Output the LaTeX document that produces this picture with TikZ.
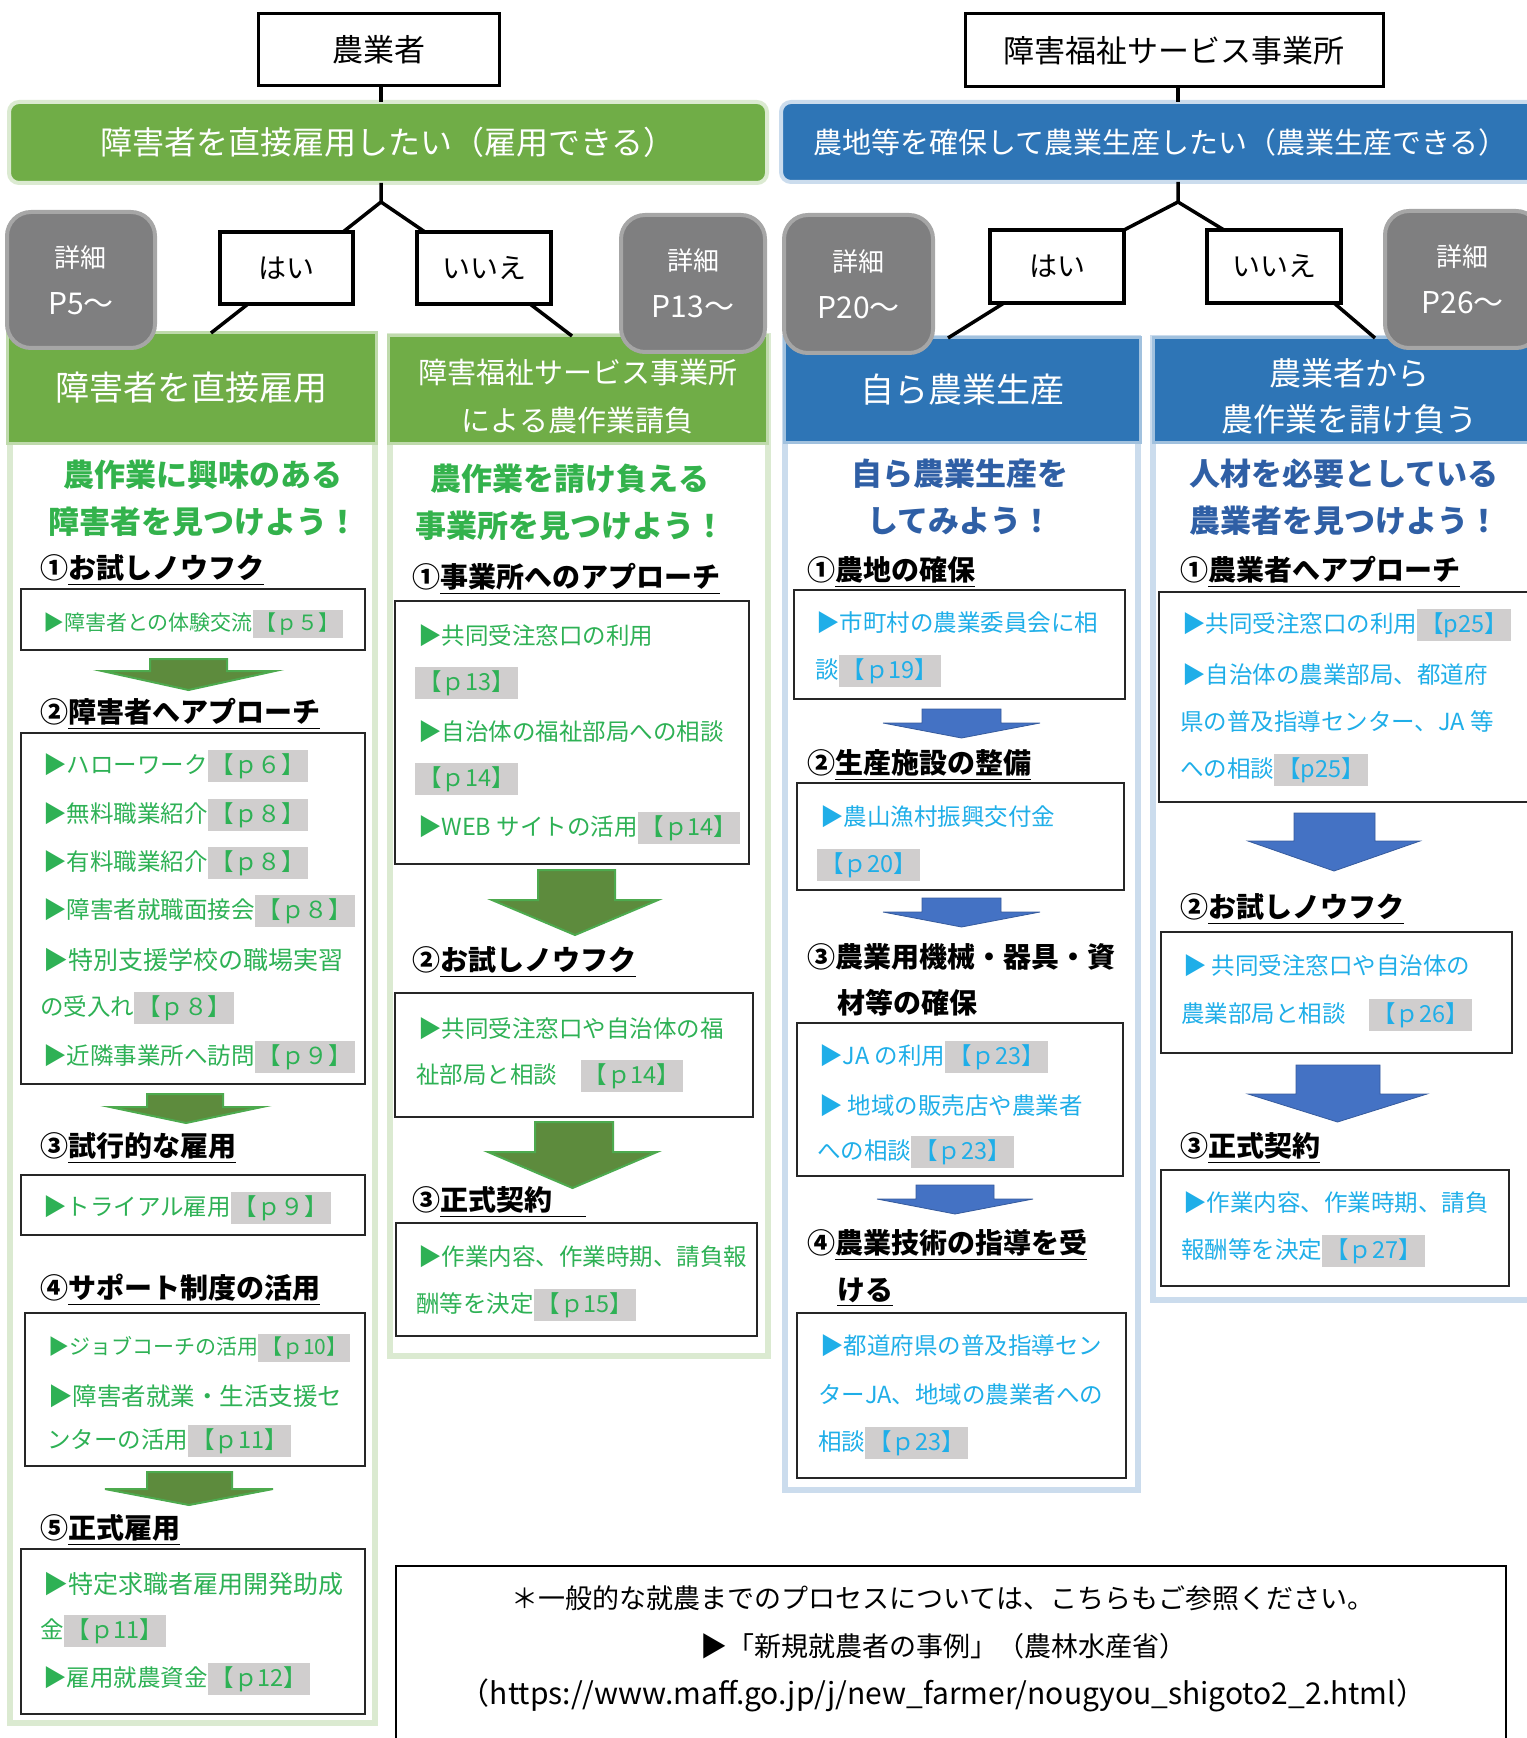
\documentclass[tikz,border=0pt]{standalone}
\usepackage{fontspec}
\setmainfont{Noto Sans CJK JP}
\usepackage{xcolor}
\definecolor{leafgreen}{HTML}{70AD47}
\definecolor{seablue}{HTML}{2E75B6}
\definecolor{badgegray}{HTML}{7F7F80}
\definecolor{badgeline}{HTML}{A6A6A6}
\definecolor{titlegreen}{HTML}{33B24C}
\definecolor{itemgreen}{HTML}{2EB155}
\definecolor{titleblue}{HTML}{2F5FA5}
\definecolor{itemcyan}{HTML}{1FAEE8}
\definecolor{hlgray}{HTML}{D0CECE}
\definecolor{arrowolive}{HTML}{5D8B3D}
\definecolor{arrowgreen}{HTML}{4DAA4E}
\definecolor{arrowblue}{HTML}{4472C4}
\newcommand\pg[1]{\colorbox{hlgray}{#1}}
\newcommand\fsz[2]{\fontsize{#1}{#2}\selectfont}
\setlength{\fboxsep}{1.5pt}

\begin{document}
\begin{tikzpicture}[x=0.5pt, y=-0.5pt, inner sep=0pt, outer sep=0pt,
		cell/.style n args={4}{minimum width={(#3-#1)*0.5pt}, minimum height={(#4-#2)*0.5pt}, at={({(#1+#3)/2},{(#2+#4)/2})}},
		person/.style={draw, line width=1.5pt, font=\fsz{15.5pt}{18pt}},
		wish/.style={draw=#1!25, fill=#1, line width=2pt, rounded corners=5pt, text=white, font=\fsz{14.5pt}{18pt}},
		answer/.style={draw, line width=2pt, fill=white, font=\fsz{14pt}{18pt}},
		detail/.style={draw=badgeline, fill=badgegray, line width=2pt, rounded corners=12pt, text=white, align=center, font=\fsz{13pt}{23.5pt}},
		route/.style={draw=#1!45, fill=#1, line width=1.5pt, text=white, align=center},
		lane/.style={draw=#1!25, line width=3pt},
		stepbox/.style={draw=black!85, line width=0.75pt},
		steptitle/.style={anchor=west, font=\fsz{14pt}{23.5pt}\bfseries},
		goal/.style={align=center, text=#1, font=\fsz{15.5pt}{23.5pt}\bfseries},
		itemg/.style={anchor=west, text=itemgreen, font=\fsz{11.75pt}{12pt}},
		itemb/.style={anchor=west, text=itemcyan, font=\fsz{11.75pt}{12pt}},
		link/.style={line width=1.75pt}]
	\useasboundingbox (0,0) rectangle (1526,1738);

	\node[cell={258}{14}{499}{86}, person] (farmer) {農業者};
	\node[cell={965}{14}{1383}{87}, person] (office) {障害福祉サービス事業所};
	\node[cell={9}{102}{767}{183}, wish=leafgreen, font=\fsz{16pt}{18pt}] (wantL) {障害者を直接雇用したい（雇用できる）};
	\node[cell={781}{102}{1540}{182}, wish=seablue] (wantR) {農地等を確保して農業生産したい（農業生産できる）};

	\node[cell={220}{232}{353}{304}, answer] (yesL) {はい};
	\node[cell={417}{232}{551}{304}, answer] (noL) {いいえ};
	\node[cell={990}{230}{1124}{303}, answer] (yesR) {はい};
	\node[cell={1207}{230}{1341}{303}, answer] (noR) {いいえ};

	\node[cell={10}{336}{375}{1723}, lane=leafgreen] (laneL) {};
	\node[cell={389.5}{336}{767.5}{1356}, lane=leafgreen] (laneM) {};
	\node[cell={784.5}{338}{1137.5}{1490}, lane=seablue] (laneB) {};
	\node[cell={1152.5}{338}{1545}{1300}, lane=seablue] (laneR) {};

	\node[cell={7}{333}{376}{443}, route=leafgreen, font=\fsz{17pt}{24pt}] (directL) {障害者を直接雇用};
	\node[cell={388}{336}{767}{443}, route=leafgreen, font=\fsz{14.5pt}{24pt}] (contractL) {\rule{0pt}{19pt}障害福祉サービス事業所\\による農作業請負};
	\node[cell={784}{338}{1140}{442}, route=seablue, font=\fsz{17pt}{24pt}] (selfB) {自ら農業生産};
	\node[cell={1153}{338}{1545}{442}, route=seablue, font=\fsz{16pt}{23pt}] (contractB) {\rule{0pt}{20pt}農業者から\\農作業を請け負う};

	\coordinate (forkL) at (381,202);
	\coordinate (forkR) at (1178,202);
	\draw[link] (forkL |- farmer.south) -- (forkL |- wantL.north);
	\draw[link] (forkL |- wantL.south) -- (forkL) -- ([xshift=-5pt]yesL.north east);
	\draw[link] (forkL) -- ([xshift=4pt]noL.north west);
	\draw[link] ([xshift=14pt]yesL.south west) -- ([xshift=102pt]directL.north west);
	\draw[link] ([xshift=-10.5pt]noL.south east) -- ([xshift=92pt]contractL.north west);
	\draw[link] (forkR |- office.south) -- (forkR |- wantR.north);
	\draw[link] (forkR |- wantR.south) -- (forkR) -- (yesR.north east);
	\draw[link] (forkR) -- ([xshift=8.5pt]noR.north west);
	\draw[link] ([xshift=7pt]yesR.south west) -- ([xshift=82pt]selfB.north west);
	\draw[link] ([xshift=-3.5pt]noR.south east) -- ([xshift=111pt]contractB.north west);

	\node[cell={7}{212}{155}{348}, detail] (moreL) {詳細\\{\fsz{15pt}{23.5pt}P5～}};
	\node[cell={621}{215}{765}{352}, detail] (moreM) {詳細\\{\fsz{15pt}{23.5pt}P13～}};
	\node[cell={784}{215}{933}{353}, detail] (moreB) {詳細\\{\fsz{15pt}{23.5pt}P20～}};
	\node[cell={1385}{211}{1540}{348}, detail] (moreR) {詳細\\{\fsz{15pt}{23.5pt}P26～}};

	\node[goal=titlegreen] (goalL) at (203,498) {農作業に興味のある\\障害者を見つけよう！};
	\node[goal=titlegreen] (goalM) at (570,502) {農作業を請け負える\\事業所を見つけよう！};
	\node[goal=titleblue] (goalB) at (960,497) {自ら農業生産を\\してみよう！};
	\node[goal=titleblue] (goalR) at (1344,497) {人材を必要としている\\農業者を見つけよう！};

	\foreach \l/\r/\a/\b/\t/\h/\p in {102/275/150/227/659/671/690, 110/262/147/223/1094/1107/1123, 105/273/147/232/1472/1489/1505, 492/658/538/615/870/900/935, 488/657/535/613/1122/1152/1188}
		\filldraw[fill=arrowolive, draw=arrowgreen, line width=1pt] (\a,\t) -- (\b,\t) -- (\b,\h) -- (\r,\h) -- ({(\l+\r)/2},\p) -- (\l,\h) -- (\a,\h) -- cycle;
	\foreach \l/\r/\a/\b/\t/\h/\p in {883/1040/922/1001/709/723/738, 883/1040/922/1001/898/912/927, 877/1033/916/994/1185/1199/1214, 1248/1420/1294/1375/813/841/871, 1248/1427/1296/1380/1065/1094/1122}
		\filldraw[fill=arrowblue, draw=arrowblue!80!black, line width=0.4pt] (\a,\t) -- (\b,\t) -- (\b,\h) -- (\r,\h) -- ({(\l+\r)/2},\p) -- (\l,\h) -- (\a,\h) -- cycle;

	\node[steptitle] (stepL1) at (40,570) {①\underline{お試しノウフク}};
	\node[steptitle] (stepL2) at (40,714) {②\underline{障害者へアプローチ}};
	\node[steptitle] (stepL3) at (40,1148) {③\underline{試行的な雇用}};
	\node[steptitle] (stepL4) at (40,1290) {④\underline{サポート制度の活用}};
	\node[steptitle] (stepL5) at (40,1530) {⑤\underline{正式雇用}};
	\node[cell={21}{589}{365}{650}, stepbox] (boxL1) {};
	\node[cell={21}{733}{365}{1084}, stepbox] (boxL2) {};
	\node[cell={21}{1175}{365}{1235}, stepbox] (boxL3) {};
	\node[cell={25}{1313}{365}{1466}, stepbox] (boxL4) {};
	\node[cell={21}{1549}{365}{1714}, stepbox] (boxL5) {};
	\foreach \x/\y/\t [count=\i] in {43/624/{\fsz{10.5pt}{12pt}▶障害者との体験交流\pg{【ｐ５】}},
			43/766/{▶ハローワーク\pg{【ｐ６】}}, 43/815/{▶無料職業紹介\pg{【ｐ８】}},
			43/863/{▶有料職業紹介\pg{【ｐ８】}}, 43/911/{▶障害者就職面接会\pg{【ｐ８】}},
			43/960/{\fsz{12.5pt}{12pt}▶特別支援学校の職場実習}, 40/1008/{の受入れ\pg{【ｐ８】}},
			43/1057/{▶近隣事業所へ訪問\pg{【ｐ９】}}, 43/1208/{▶トライアル雇用\pg{【ｐ９】}},
			48/1348/{\fsz{10.5pt}{12pt}▶ジョブコーチの活用\pg{【ｐ10】}}, 48/1396/{\fsz{12.25pt}{12pt}▶障害者就業・生活支援セ},
			47/1441/{ンターの活用\pg{【ｐ11】}}, 43/1584/{\fsz{12.5pt}{12pt}▶特定求職者雇用開発助成},
			40/1631/{金\pg{【ｐ11】}}, 43/1679/{▶雇用就農資金\pg{【ｐ12】}}}
		\node[itemg] (itemL-\i) at (\x,\y) {\t};

	\node[steptitle] (stepM1) at (412,579) {①\underline{事業所へのアプローチ}};
	\node[steptitle] (stepM2) at (412,962) {②\underline{お試しノウフク}};
	\node[steptitle] (stepM3) at (412,1202) {③\underline{正式契約\quad\ }};
	\node[cell={395}{601}{749}{864}, stepbox] (boxM1) {};
	\node[cell={395}{993}{753}{1117}, stepbox] (boxM2) {};
	\node[cell={396}{1223}{757}{1336}, stepbox] (boxM3) {};
	\foreach \x/\y/\t [count=\i] in {418/636/{▶共同受注窓口の利用}, 415/683/{\pg{【ｐ13】}},
			418/732/{▶自治体の福祉部局への相談}, 415/779/{\pg{【ｐ14】}},
			418/828/{▶WEB サイトの活用\pg{【ｐ14】}}, 418/1029/{▶共同受注窓口や自治体の福},
			416/1076/{祉部局と相談　\pg{【ｐ14】}}, 418/1257/{▶作業内容、作業時期、請負報},
			416/1305/{酬等を決定\pg{【ｐ15】}}}
		\node[itemg] (itemM-\i) at (\x,\y) {\t};

	\node[steptitle] (stepB1) at (807,572) {①\underline{農地の確保}};
	\node[steptitle] (stepB2) at (807,765) {②\underline{生産施設の整備}};
	\node[steptitle] (stepB3) at (807,957) {③農業用機械・器具・資};
	\node[steptitle] (stepB3b) at (837,1003) {材等の確保};
	\node[steptitle] (stepB4) at (807,1245) {④\underline{農業技術の指導を受}};
	\node[steptitle] (stepB4b) at (837,1292) {\underline{ける}};
	\node[cell={794}{590}{1125}{699}, stepbox] (boxB1) {};
	\node[cell={797}{783}{1124}{890}, stepbox] (boxB2) {};
	\node[cell={797}{1023}{1123}{1176}, stepbox] (boxB3) {};
	\node[cell={797}{1313}{1126}{1478}, stepbox] (boxB4) {};
	\foreach \x/\y/\t [count=\i] in {816/623/{▶市町村の農業委員会に相}, 815/671/{談\pg{【ｐ19】}},
			820/817/{▶農山漁村振興交付金}, 817/865/{\pg{【ｐ20】}},
			819/1057/{▶JA の利用\pg{【ｐ23】}}, 819/1106/{▶ 地域の販売店や農業者},
			817/1152/{への相談\pg{【ｐ23】}}, 820/1346/{▶都道府県の普及指導セン},
			818/1395/{ターJA、地域の農業者への}, 818/1443/{相談\pg{【ｐ23】}}}
		\node[itemb] (itemB-\i) at (\x,\y) {\t};

	\node[steptitle] (stepR1) at (1180,572) {①\underline{農業者へアプローチ}};
	\node[steptitle] (stepR2) at (1180,909) {②\underline{お試しノウフク}};
	\node[steptitle] (stepR3) at (1180,1148) {③\underline{正式契約}};
	\node[cell={1159}{592}{1545}{802}, stepbox] (boxR1) {};
	\node[cell={1161}{932}{1512}{1053}, stepbox] (boxR2) {};
	\node[cell={1161}{1170}{1509}{1286}, stepbox] (boxR3) {};
	\foreach \x/\y/\t [count=\i] in {1182/625/{▶共同受注窓口の利用\pg{【p25】}},
			1182/675/{▶自治体の農業部局、都道府}, 1180/722/{県の普及指導センター、JA 等},
			1180/770/{への相談\pg{【p25】}}, 1183/966/{▶ 共同受注窓口や自治体の},
			1181/1015/{農業部局と相談　\pg{【ｐ26】}}, 1183/1203/{▶作業内容、作業時期、請負},
			1181/1251/{報酬等を決定\pg{【ｐ27】}}}
		\node[itemb] (itemR-\i) at (\x,\y) {\t};

	\node[cell={396}{1566}{1506}{1760}, draw, line width=1pt] (noteBox) {};
	\node[align=center, font=\fsz{13.5pt}{24pt}] (note) at (943,1649) {＊一般的な就農までのプロセスについては、こちらもご参照ください。\\▶「新規就農者の事例」（農林水産省）\\{\fsz{15pt}{24pt}（https://www.maff.go.jp/j/new\_farmer/nougyou\_shigoto2\_2.html）}};
\end{tikzpicture}
\end{document}
